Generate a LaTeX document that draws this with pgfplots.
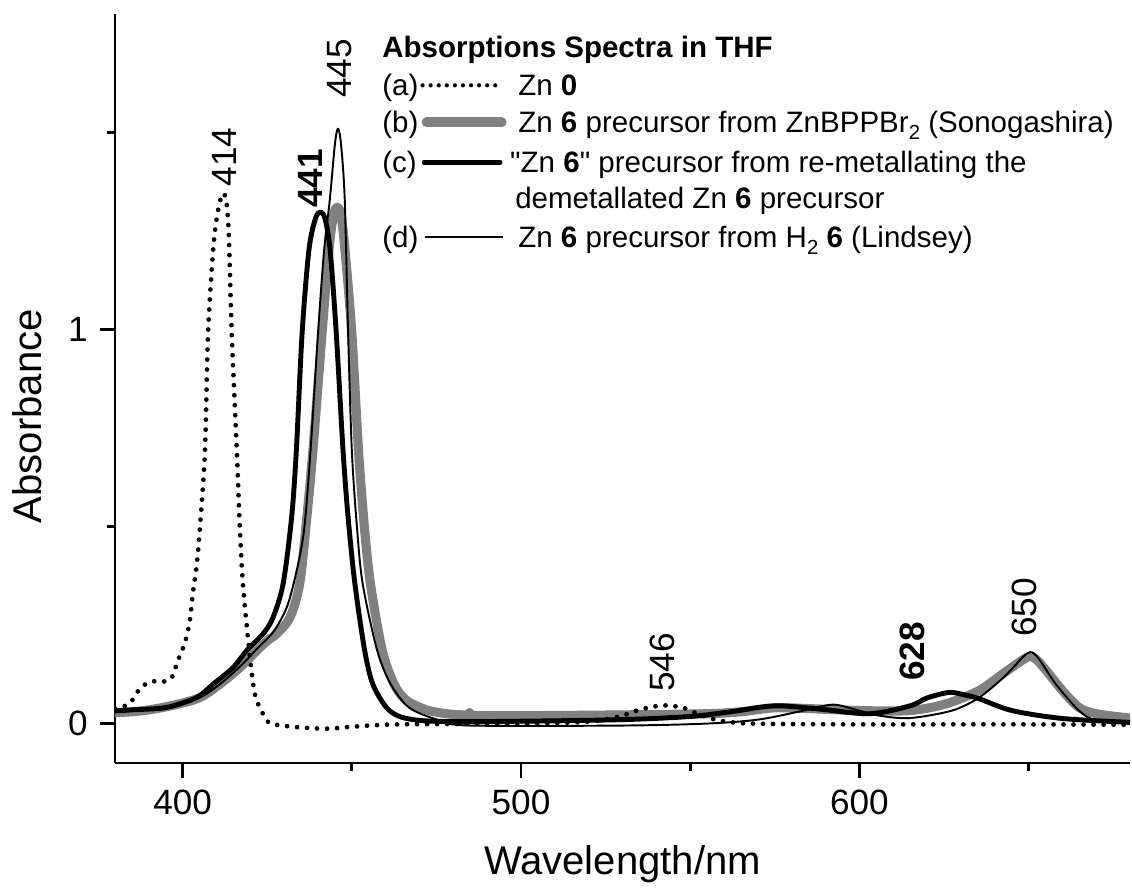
\documentclass[border=0pt]{standalone}
\usepackage{fontspec}
\setmainfont{Liberation Sans}
\usepackage{pgfplots}
\pgfplotsset{compat=1.18}
\definecolor{specgray}{RGB}{128,128,128}
\newcommand{\legfont}{\fontsize{8.4}{10}\selectfont}
\newcommand{\pkfont}{\fontsize{10}{12}\selectfont}
\newcommand{\sub}[1]{\raisebox{-0.45ex}{\fontsize{5.8}{6}\selectfont #1}}
\begin{document}
\begin{tikzpicture}
\useasboundingbox (-11.5mm,-12.7mm) rectangle (101.7mm,76.3mm);
\begin{axis}[
  at={(0,0)}, anchor=south west,
  scale only axis, width=101.5mm, height=74.9mm,
  xmin=380, xmax=680, ymin=-0.1, ymax=1.8,
  axis lines*=left,
  axis line style={line width=0.85pt},
  xtick={400,500,600}, minor xtick={450,550,650},
  ytick={0,1}, minor ytick={0.5,1.5},
  tick align=outside,
  major tick length=1.5mm, minor tick length=0.8mm,
  every tick/.style={black, line width=0.85pt},
  /pgf/number format/assume math mode=true,
  ticklabel style={font=\fontsize{10}{12}\selectfont},
  xlabel={Wavelength/nm}, ylabel={Absorbance},
  label style={font=\fontsize{11.4}{13}\selectfont},
  xlabel style={at={(rel axis cs:0.5,0)}, anchor=base, yshift=-11.2mm},
  ylabel style={at={([xshift=-7.3mm]rel axis cs:0,0.463)}, anchor=base},
  clip mode=individual,
]
% (b) gray thick
\addplot[specgray, line width=2.6pt, line join=round, line cap=round, smooth, tension=0.5] coordinates {
(380,0.028) (385,0.03) (390.3,0.035) (398,0.048) (405.1,0.066) (411,0.1) (416.9,0.142) (421.9,0.185) (425,0.21) (427.8,0.228) (431.7,0.269) (434.6,0.355) (436.7,0.523) (438.5,0.693) (441.2,0.99) (443.2,1.2) (444.6,1.29) (445.7,1.31) (446.8,1.29) (448,1.2) (450,0.99) (452,0.69) (453.7,0.5) (455.5,0.355) (459,0.185) (462.5,0.1) (466,0.06) (472,0.035) (478,0.025) (484,0.022) (484.8,0.028) (485.6,0.021) (500,0.02) (530,0.022) (555,0.025) (565,0.03) (575,0.04) (585,0.038) (600,0.033) (615,0.033) (625.6,0.05) (635.4,0.084) (643,0.13) (649.6,0.168) (652,0.165) (655.2,0.135) (660,0.084) (664.9,0.041) (670,0.025) (678.8,0.015) (680,0.014)
};
% (c) black thick
\addplot[black, line width=1.4pt, line join=round, smooth, tension=0.5] coordinates {
(380,0.032) (385.3,0.035) (395.3,0.041) (404.1,0.066) (409,0.1) (414.9,0.142) (418.9,0.185) (423.8,0.228) (426.7,0.269) (429.7,0.355) (432.2,0.523) (433.6,0.693) (435.3,0.99) (437.3,1.2) (439.2,1.28) (440.7,1.298) (442.1,1.28) (443.6,1.2) (445.4,0.99) (447.4,0.693) (448.9,0.523) (450.9,0.355) (453.8,0.185) (456.2,0.1) (460.2,0.041) (464.1,0.018) (470,0.008) (480,0.005) (500,0.006) (530,0.01) (550,0.018) (562,0.03) (575,0.045) (588,0.037) (603,0.025) (615,0.045) (620,0.065) (626.5,0.079) (631,0.073) (635.4,0.063) (645.1,0.033) (659.9,0.013) (680,0.003)
};
% (d) thin black
\addplot[black, line width=0.55pt, line join=round, smooth, tension=0.5] coordinates {
(380,0.03) (395,0.04) (405,0.066) (411,0.1) (417,0.145) (422,0.19) (427,0.235) (431,0.3) (434,0.4) (436,0.5) (437.8,0.693) (440,0.99) (441.8,1.2) (443.5,1.33) (445,1.47) (445.9,1.509) (446.8,1.47) (447.9,1.33) (448.9,0.99) (450,0.693) (451.5,0.5) (453.2,0.355) (457.5,0.185) (461.5,0.1) (467,0.04) (476,0.008) (485,-0.005) (530,-0.005) (555,0.0) (570,0.01) (582,0.03) (592,0.048) (599,0.035) (606,0.02) (615,0.014) (627.4,0.033) (635.4,0.066) (643,0.12) (649.6,0.178) (652.5,0.17) (658.1,0.1) (664.9,0.033) (669.9,0.008) (680,0.0)
};
% (a) dotted
\addplot[black, line width=1.35pt, line cap=round, dash pattern=on 0pt off 2.85pt, smooth, tension=0.5] coordinates {
(380,0.038) (383,0.045) (385,0.058) (387,0.085) (388.3,0.096) (390.9,0.107) (394.8,0.107) (396.8,0.117) (398.6,0.16) (400.7,0.206) (402.1,0.261) (403.0,0.33) (404.2,0.406) (405.1,0.497) (406.6,0.693) (407.5,0.99) (409,1.2) (410.1,1.284) (411.2,1.33) (411.9,1.345) (412.8,1.33) (413.6,1.25) (414.5,0.99) (416.0,0.693) (416.9,0.497) (417.8,0.355) (419.3,0.218) (420.7,0.109) (421.9,0.058) (424.9,0.008) (427,-0.002) (435,-0.01) (442.9,-0.013) (450,-0.008) (464,-0.002) (500,0.0) (520,0.005) (529.1,0.018) (535,0.035) (541.8,0.046) (548,0.04) (552.7,0.023) (558.6,0.008) (568.4,0.0) (600,-0.002) (650,-0.002) (680,-0.003)
};
% peak labels
\node[rotate=90, inner sep=0, font=\pkfont] at (axis cs:446.4,1.662) {445};
\node[rotate=90, inner sep=0, font=\pkfont] at (axis cs:412.2,1.437) {414};
\node[rotate=90, inner sep=0, font=\pkfont\bfseries] at (axis cs:437.9,1.383) {441};
\node[rotate=90, inner sep=0, font=\pkfont] at (axis cs:541.8,0.155) {546};
\node[rotate=90, inner sep=0, font=\pkfont\bfseries] at (axis cs:615.6,0.183) {628};
\node[rotate=90, inner sep=0, font=\pkfont] at (axis cs:648.7,0.294) {650};
% legend
\node[anchor=base west, inner sep=0, font=\legfont\bfseries] at (axis cs:458.8,1.690) {Absorptions Spectra in THF};
\node[anchor=base west, inner sep=0, font=\legfont] at (axis cs:458.8,1.594) {(a)};
\draw[black, line width=1.2pt, line cap=round, dash pattern=on 0pt off 2.3pt] (axis cs:470.9,1.619) -- (axis cs:493.1,1.619);
\node[anchor=base west, inner sep=0, font=\legfont] at (axis cs:499,1.594) {Zn \textbf{0}};
\node[anchor=base west, inner sep=0, font=\legfont] at (axis cs:458.8,1.500) {(b)};
\draw[specgray, line width=2.8pt, line cap=round] (axis cs:472.1,1.525) -- (axis cs:494.3,1.525);
\node[anchor=base west, inner sep=0, font=\legfont] at (axis cs:499,1.500) {Zn \textbf{6} precursor from ZnBPPBr\sub{2} (Sonogashira)};
\node[anchor=base west, inner sep=0, font=\legfont] at (axis cs:458.8,1.398) {(c)};
\draw[black, line width=1.4pt, line cap=round] (axis cs:471.4,1.424) -- (axis cs:493.8,1.424);
\node[anchor=base west, inner sep=0, font=\legfont] at (axis cs:496.6,1.398) {\textquotedbl Zn \textbf{6}\textquotedbl\ precursor from re-metallating the};
\node[anchor=base west, inner sep=0, font=\legfont] at (axis cs:498.1,1.307) {demetallated Zn \textbf{6} precursor};
\node[anchor=base west, inner sep=0, font=\legfont] at (axis cs:458.8,1.208) {(d)};
\draw[black, line width=0.55pt] (axis cs:471.5,1.234) -- (axis cs:494.6,1.234);
\node[anchor=base west, inner sep=0, font=\legfont] at (axis cs:499,1.208) {Zn \textbf{6} precursor from H\sub{2} \textbf{6} (Lindsey)};
\end{axis}
\end{tikzpicture}
\end{document}
